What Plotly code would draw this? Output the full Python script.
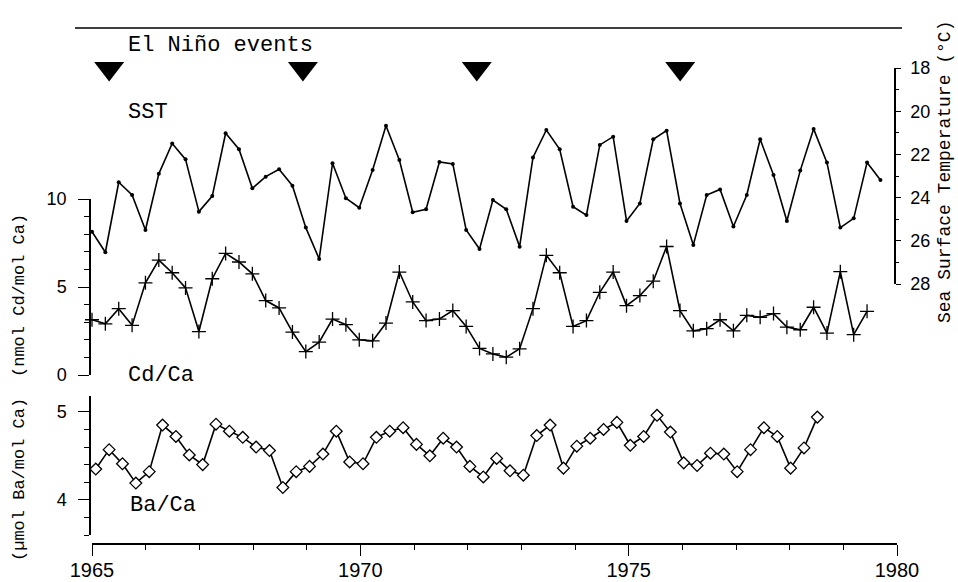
import plotly.graph_objects as go

W, H = 958, 582

# ---------------- data ----------------
SST_START, CD_START, BA_START, STEP = 1965.0, 1965.0, 1965.07, 0.249

sst = [25.58, 26.53, 23.29, 23.88, 25.5, 22.9, 21.49, 22.23, 24.65, 23.93,
       21.02, 21.76, 23.57, 23.03, 22.69, 23.45, 25.39, 26.84, 22.41, 24.03,
       24.47, 22.72, 20.67, 22.26, 24.68, 24.54, 22.35, 22.44, 25.5, 26.38,
       24.11, 24.54, 26.27, 22.14, 20.87, 21.76, 24.42, 24.81, 21.56, 21.18,
       25.08, 24.27, 21.3, 20.9, 24.27, 26.19, 23.88, 23.62, 25.34, 23.88,
       21.3, 22.95, 25.08, 22.75, 20.82, 22.38, 25.39, 24.96, 22.38, 23.19]

cd_ca = [3.14, 2.91, 3.77, 2.82, 5.24, 6.53, 5.81, 4.95, 2.47, 5.47,
         6.91, 6.42, 5.75, 4.23, 3.81, 2.44, 1.33, 1.87, 3.18, 2.86,
         2.0, 1.94, 2.95, 5.85, 4.15, 3.09, 3.18, 3.66, 2.76, 1.51,
         1.2, 1.01, 1.49, 3.77, 6.8, 5.81, 2.76, 3.09, 4.70, 5.85,
         3.94, 4.51, 5.33, 7.3, 3.66, 2.51, 2.63, 3.14, 2.51, 3.39,
         3.28, 3.49, 2.72, 2.57, 3.85, 2.38, 5.87, 2.29, 3.62]

ba_ca = [4.35, 4.57, 4.41, 4.19, 4.32, 4.85, 4.72, 4.51, 4.40, 4.86,
         4.78, 4.71, 4.60, 4.56, 4.14, 4.32, 4.38, 4.52, 4.78, 4.43,
         4.41, 4.71, 4.78, 4.82, 4.63, 4.50, 4.70, 4.60, 4.38, 4.26,
         4.47, 4.33, 4.28, 4.73, 4.85, 4.36, 4.61, 4.70, 4.80, 4.88,
         4.62, 4.72, 4.96, 4.77, 4.42, 4.39, 4.53, 4.52, 4.32, 4.57,
         4.82, 4.72, 4.36, 4.59, 4.94]

el_nino_years = [1965.32, 1968.93, 1972.17, 1975.96]

sst_t = [SST_START + STEP * i for i in range(len(sst))]
cd_t = [CD_START + STEP * i for i in range(len(cd_ca))]
ba_t = [BA_START + STEP * i for i in range(len(ba_ca))]


def px(x):
    return x / W


def py(y):
    return 1 - y / H


MONO = "Liberation Mono"
SANS = "Liberation Sans"
LINE = dict(color="black", width=1.6)

fig = go.Figure()

fig.add_trace(go.Scatter(x=sst_t, y=sst, yaxis="y2", mode="lines+markers",
                         line=LINE, marker=dict(symbol="circle", size=4, color="black"),
                         cliponaxis=False, showlegend=False))
fig.add_trace(go.Scatter(x=cd_t, y=cd_ca, yaxis="y", mode="lines+markers",
                         line=LINE,
                         marker=dict(symbol="cross-thin-open", size=10,
                                     line=dict(color="black", width=1.3)),
                         cliponaxis=False, showlegend=False))
fig.add_trace(go.Scatter(x=ba_t, y=ba_ca, yaxis="y3", mode="lines+markers",
                         line=LINE,
                         marker=dict(symbol="diamond", size=9, color="white",
                                     line=dict(color="black", width=1.3)),
                         cliponaxis=False, showlegend=False))
fig.add_trace(go.Scatter(x=el_nino_years, y=[0.54] * len(el_nino_years), yaxis="y4",
                         mode="markers",
                         marker=dict(symbol="triangle-down", size=26, color="black"),
                         cliponaxis=False, showlegend=False))

axis_common = dict(showgrid=False, zeroline=False, showline=True, linecolor="black",
                   linewidth=1.5, ticks="outside", tickcolor="black", tickwidth=1.3,
                   color="black", automargin=False)

fig.update_layout(
    width=W, height=H,
    margin=dict(l=0, r=0, t=0, b=0, autoexpand=False),
    paper_bgcolor="white", plot_bgcolor="rgba(0,0,0,0)",
    xaxis=dict(domain=[px(92), px(897)], range=[1965, 1980], anchor="free",
               position=py(544), tick0=1965, dtick=5, ticklen=11,
               ticklabelstandoff=-3,
               tickfont=dict(family=SANS, size=20, color="black"),
               minor=dict(dtick=1, tick0=1965, ticks="outside", ticklen=5,
                          tickcolor="black", tickwidth=1.2),
               **axis_common),
    yaxis=dict(domain=[py(375), py(199)], range=[0, 10], anchor="free",
               position=px(90), tick0=0, dtick=5, ticklen=11,
               ticklabelstandoff=8,
               tickfont=dict(family=SANS, size=18, color="black"),
               minor=dict(dtick=1, tick0=0, ticks="outside", ticklen=5,
                          tickcolor="black", tickwidth=1.2),
               **axis_common),
    yaxis2=dict(domain=[py(284), py(68)], range=[28, 18], anchor="free",
                position=px(895), side="right", tick0=18, dtick=2, ticklen=5,
                ticklabelstandoff=6,
                tickfont=dict(family=SANS, size=18, color="black"),
                minor=dict(dtick=1, tick0=18, ticks="outside", ticklen=3,
                           tickcolor="black", tickwidth=1.2),
                **axis_common),
    yaxis3=dict(domain=[py(535), py(396)], range=[3.6, 5.18], anchor="free",
                position=px(90), tick0=4, dtick=1, ticklen=11,
                ticklabelstandoff=8,
                tickfont=dict(family=SANS, size=18, color="black"),
                minor=dict(dtick=0.2, tick0=4, ticks="outside", ticklen=5,
                           tickcolor="black", tickwidth=1.2),
                **axis_common),
    yaxis4=dict(domain=[py(90), py(50)], range=[0, 1], anchor="free",
                position=px(92), visible=False, automargin=False),
    shapes=[dict(type="line", xref="paper", yref="paper",
                 x0=px(75), x1=px(902), y0=py(28), y1=py(28),
                 line=dict(color="black", width=1.6))],
)

ann_font = dict(family=MONO, size=22, color="black")
title_font = dict(family=MONO, size=17, color="black")
annotations = [
    dict(text="El Niño events", x=px(126), y=py(46), xanchor="left", yanchor="middle",
         font=ann_font),
    dict(text="SST", x=px(126), y=py(113), xanchor="left", yanchor="middle", font=ann_font),
    dict(text="Cd/Ca", x=px(126), y=py(375), xanchor="left", yanchor="middle", font=ann_font),
    dict(text="Ba/Ca", x=px(128), y=py(505), xanchor="left", yanchor="middle", font=ann_font),
    dict(text="(nmol Cd/mol Ca)", x=px(19), y=py(296), textangle=-90,
         xanchor="center", yanchor="middle", font=title_font),
    dict(text="(µmol Ba/mol Ca)", x=px(19), y=py(480), textangle=-90,
         xanchor="center", yanchor="middle", font=title_font),
    dict(text="Sea Surface Temperature (°C)", x=px(945), y=py(172), textangle=-90,
         xanchor="center", yanchor="middle", font=dict(family=MONO, size=18, color="black")),
]
for a in annotations:
    a.update(xref="paper", yref="paper", showarrow=False)
fig.update_layout(annotations=annotations)

fig.write_html(
    "out.html",
    config={"displayModeBar": False},
    post_script="document.body.style.margin='0';document.body.style.overflow='hidden';",
)
